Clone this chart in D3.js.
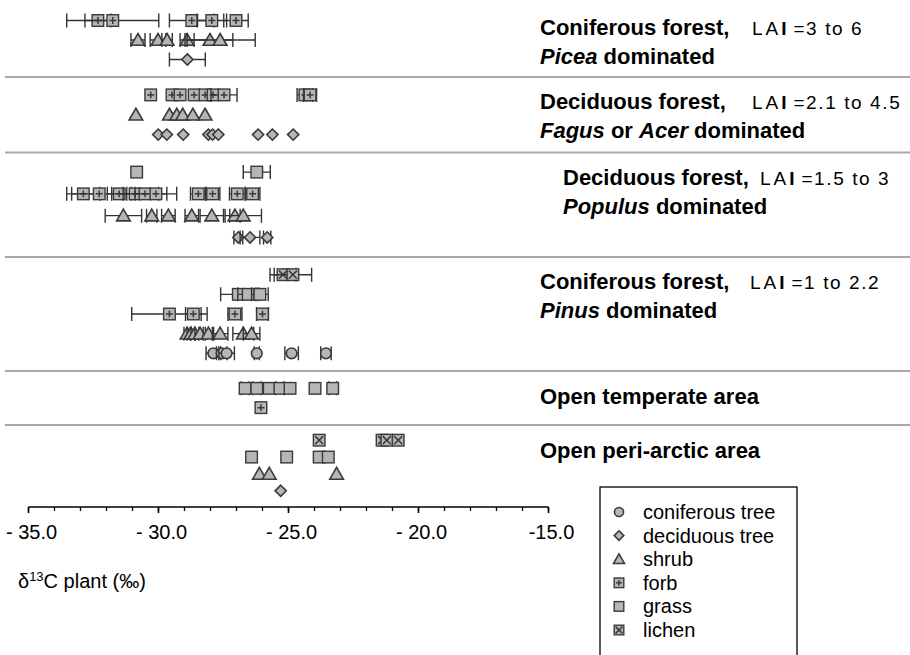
<!DOCTYPE html>
<html>
<head>
<meta charset="utf-8">
<script src="https://cdn.jsdelivr.net/npm/d3@7"></script>
<style>
body{margin:0;background:#fff}
svg{display:block}
text{font-family:"Liberation Sans",Arial,sans-serif;fill:#000}
</style>
</head>
<body>
<div id="chart"></div>
<script>
// values: [delta13C, sd]  (sd 0 = no error bar)
const piceaForb   = [[-32.33,0.5],[-31.76,1.77],[-28.72,0.86],[-27.95,0.57],[-27.02,0.47]];
const piceaShrub  = [[-30.79,0.27],[-30.02,0.3],[-29.67,0.2],[-28.9,0.27],[-28.02,0.88],[-27.63,1.35]];
const piceaDecid  = [[-28.89,0.69]];

const fagusForb   = [[-30.30,0],[-29.48,0],[-29.17,0],[-28.63,0],[-28.21,0],[-27.90,0],[-27.48,0.5],[-24.37,0.3],[-24.17,0.25]];
const fagusShrub  = [[-30.87,0],[-29.58,0],[-29.30,0],[-29.07,0],[-28.68,0],[-28.21,0]];
const fagusDecid  = [[-30.01,0],[-29.68,0],[-29.05,0],[-28.08,0],[-27.92,0],[-27.70,0],[-26.17,0],[-25.62,0],[-24.82,0]];

const populusGrass = [[-30.84,0],[-26.22,0.52]];
const populusForb  = [[-32.89,0.64],[-32.28,1.06],[-31.51,0.46],[-30.90,0.9],[-30.52,0.84],[-30.10,0.8],[-28.47,0.3],[-27.92,0.28],[-26.97,0.3],[-26.38,0.28]];
const populusShrub = [[-31.35,0.7],[-30.26,0.2],[-29.62,0.26],[-28.72,0.26],[-27.95,0.45],[-27.06,0.2],[-26.74,0.7]];
const populusDecid = [[-26.93,0.17],[-26.48,0.38],[-25.82,0.14]];

const pinusLichen  = [[-25.21,0.5],[-24.83,0.72]];
const pinusGrass   = [[-26.93,0.68],[-26.55,0.4],[-26.10,0.32]];
const pinusForb    = [[-29.58,1.45],[-28.66,0.3],[-27.06,0.27],[-26.0,0.23]];
const pinusShrub   = [[-28.9,0.12],[-28.75,0.15],[-28.6,0.15],[-28.40,0.2],[-28.08,0.2],[-27.63,0.3],[-26.74,0.4],[-26.42,0.32]];
const pinusConifer = [[-27.89,0.28],[-27.57,0.2],[-27.38,0.3],[-26.22,0.1],[-24.88,0.26],[-23.56,0.2]];

const tempGrass    = [[-26.67,0.15],[-26.22,0.15],[-25.74,0],[-25.33,0.15],[-24.94,0],[-23.98,0],[-23.30,0.15]];
const tempForb     = [[-26.06,0]];

const arcticLichen = [[-23.82,0],[-21.40,0],[-21.22,0],[-20.78,0]];
const arcticGrass  = [[-26.42,0],[-25.07,0],[-23.82,0],[-23.47,0]];
const arcticShrub  = [[-26.12,0],[-25.74,0],[-23.15,0]];
const arcticDecid  = [[-25.30,0]];

// rows of each habitat, top to bottom
const groupRows = [
    [['forb',piceaForb],['shrub',piceaShrub],['deciduous',piceaDecid]],
    [['forb',fagusForb],['shrub',fagusShrub],['deciduous',fagusDecid]],
    [['grass',populusGrass],['forb',populusForb],['shrub',populusShrub],['deciduous',populusDecid]],
    [['lichen',pinusLichen],['grass',pinusGrass],['forb',pinusForb],['shrub',pinusShrub],['conifer',pinusConifer]],
    [['grass',tempGrass],['forb',tempForb]],
    [['lichen',arcticLichen],['grass',arcticGrass],['shrub',arcticShrub],['deciduous',arcticDecid]]
];

const titleLine1 = ['Coniferous forest,','Deciduous forest,','Deciduous forest,','Coniferous forest,','Open temperate area','Open peri-arctic area'];
const titleLine2 = [
    [['Picea',true],[' dominated',false]],
    [['Fagus',true],[' or ',false],['Acer',true],[' dominated',false]],
    [['Populus',true],[' dominated',false]],
    [['Pinus',true],[' dominated',false]],
    null, null
];
const laiText = ['=3 to 6','=2.1 to 4.5','=1.5 to 3','=1 to 2.2',null,null];

const legendTypes  = ['conifer','deciduous','shrub','forb','grass','lichen'];
const legendLabels = ['coniferous tree','deciduous tree','shrub','forb','grass','lichen'];

const majorTicks = [-35,-30,-25,-20,-15];
const tickLabels = ['- 35.0','- 30.0','- 25.0','- 20.0','-15.0'];
const minorTicks = d3.range(-35,-14,1);

// layout
const width = 910, height = 655;
const bandEdges = [3, 77, 152.5, 257, 371, 425, 506];
const axisY = 507;
const titleX = [540, 540, 563, 540, 540, 540];
const laiX = [752, 752, 760, 750];

const svg = d3.select('#chart').append('svg')
    .attr('width', width)
    .attr('height', height);

const x = d3.scaleLinear().domain([-35,-15]).range([28.5, 548.5]);

const fillGray = '#b6b6b6';
const strokeDark = '#3a3a3a';

// separators
svg.selectAll('.sep')
    .data(bandEdges.slice(1,6))
    .enter().append('line')
    .attr('class','sep')
    .attr('x1',5).attr('x2',width)
    .attr('y1',d=>d).attr('y2',d=>d)
    .attr('stroke','#a8a8a8')
    .attr('stroke-width',2);

function drawMarker(g, type, s) {
    if (type === 'conifer') {
        g.append('circle').attr('r', s*0.95)
            .attr('fill', fillGray).attr('stroke', strokeDark).attr('stroke-width', 1.6);
    } else if (type === 'deciduous') {
        g.append('path').attr('d', `M0,${-s}L${s},0L0,${s}L${-s},0Z`)
            .attr('fill', fillGray).attr('stroke', strokeDark).attr('stroke-width', 1.6);
    } else if (type === 'shrub') {
        g.append('path').attr('d', `M0,${-s*1.05}L${s*1.1},${s*0.85}L${-s*1.1},${s*0.85}Z`)
            .attr('fill', fillGray).attr('stroke', strokeDark).attr('stroke-width', 1.6)
            .attr('stroke-linejoin','miter');
    } else {
        g.append('rect').attr('x',-s).attr('y',-s).attr('width',2*s).attr('height',2*s)
            .attr('fill', fillGray).attr('stroke', strokeDark).attr('stroke-width', 1.4);
        if (type === 'forb') {
            const k = s*0.6;
            g.append('path').attr('d', `M${-k},0H${k}M0,${-k}V${k}`)
                .attr('stroke', strokeDark).attr('stroke-width', 1.5);
        }
        if (type === 'lichen') {
            const k = s*0.7;
            g.append('path').attr('d', `M${-k},${-k}L${k},${k}M${k},${-k}L${-k},${k}`)
                .attr('stroke', strokeDark).attr('stroke-width', 1.5);
        }
    }
}

const markerSize = {conifer:5.6, deciduous:5.6, shrub:6.2, forb:5.8, grass:5.8, lichen:5.8};

groupRows.forEach((rows, gi) => {
    const y = d3.scalePoint()
        .domain(rows.map((r,i)=>i))
        .range([bandEdges[gi], bandEdges[gi+1]])
        .padding(0.9);

    rows.forEach((row, ri) => {
        const type = row[0];
        const cy = y(ri);
        const pts = svg.append('g').selectAll('g')
            .data(row[1])
            .enter().append('g')
            .attr('transform', d=>`translate(${x(d[0])},${cy})`);

        pts.each(function(d){
            const g = d3.select(this);
            if (d[1] > 0) {
                const w = x(d[0]+d[1]) - x(d[0]);
                g.append('path')
                    .attr('d', `M${-w},0H${w}M${-w},-7V7M${w},-7V7`)
                    .attr('stroke', '#333')
                    .attr('stroke-width', 1.4)
                    .attr('fill','none');
            }
            drawMarker(g, type, markerSize[type]);
        });
    });

    // habitat labels
    const top = bandEdges[gi];
    if (titleLine2[gi]) {
        svg.append('text')
            .attr('x', titleX[gi]).attr('y', top + 32)
            .attr('font-size', 22).attr('font-weight', 'bold')
            .text(titleLine1[gi]);
        const t2 = svg.append('text')
            .attr('x', titleX[gi]).attr('y', top + 61)
            .attr('font-size', 22).attr('font-weight', 'bold');
        titleLine2[gi].forEach(p => {
            t2.append('tspan').attr('font-style', p[1] ? 'italic' : 'normal').text(p[0]);
        });
        const lai = svg.append('text')
            .attr('x', laiX[gi]).attr('y', top + 32)
            .attr('font-size', 19);
        lai.append('tspan').attr('letter-spacing', 3).text('LA');
        lai.append('tspan').attr('font-weight','bold').text('I');
        lai.append('tspan').attr('letter-spacing', 1.6).text(' ' + laiText[gi]);
    } else {
        svg.append('text')
            .attr('x', titleX[gi]).attr('y', top + 33)
            .attr('font-size', 22).attr('font-weight', 'bold')
            .text(titleLine1[gi]);
    }
});

// x axis
const axis = svg.append('g')
    .attr('transform', `translate(0,${axisY})`);

axis.append('line')
    .attr('x1', x(-35)).attr('x2', x(-15))
    .attr('stroke', '#000').attr('stroke-width', 1.6);

axis.selectAll('.minor')
    .data(minorTicks)
    .enter().append('line')
    .attr('x1', d=>x(d)).attr('x2', d=>x(d))
    .attr('y1', 0).attr('y2', 4)
    .attr('stroke', '#000').attr('stroke-width', 1.3);

axis.selectAll('.major')
    .data(majorTicks)
    .enter().append('line')
    .attr('x1', d=>x(d)).attr('x2', d=>x(d))
    .attr('y1', 0).attr('y2', 6)
    .attr('stroke', '#000').attr('stroke-width', 1.6);

axis.selectAll('.tlab')
    .data(majorTicks)
    .enter().append('text')
    .attr('x', d=>x(d) + 3)
    .attr('y', 32)
    .attr('text-anchor', 'middle')
    .attr('font-size', 20)
    .text((d,i)=>tickLabels[i]);

const title = svg.append('text')
    .attr('x', 18).attr('y', 588)
    .attr('font-size', 20);
title.append('tspan').text('\u03b4');
title.append('tspan').attr('font-size', 13).attr('dy', -7).text('13');
title.append('tspan').attr('dy', 7).text('C plant (\u2030)');

// legend
const legend = svg.append('g');
legend.append('rect')
    .attr('x', 600).attr('y', 487)
    .attr('width', 197).attr('height', 180)
    .attr('fill', 'none').attr('stroke', '#000').attr('stroke-width', 1.3);

const ly = d3.scalePoint().domain(legendTypes).range([512, 630]);
legendTypes.forEach((t, i) => {
    const g = legend.append('g').attr('transform', `translate(619,${ly(t)})`);
    drawMarker(g, t, t === 'shrub' ? 5 : 4.8);
    legend.append('text')
        .attr('x', 643).attr('y', ly(t) + 7)
        .attr('font-size', 20)
        .text(legendLabels[i]);
});
</script>
</body>
</html>
